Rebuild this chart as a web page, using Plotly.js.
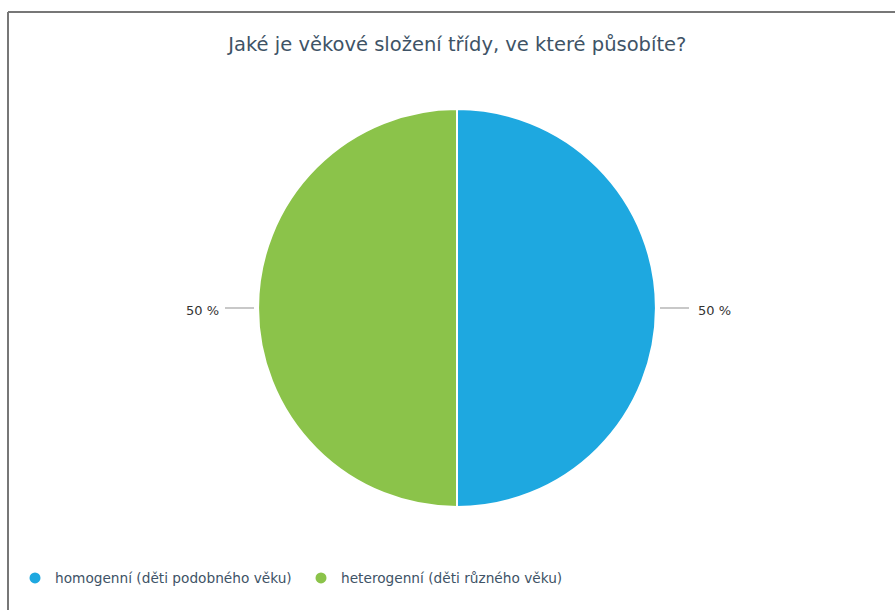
<!DOCTYPE html>
<html><head><meta charset="utf-8">
<script src="https://cdn.plot.ly/plotly-3.0.1.min.js"></script>
<style>html,body{margin:0;padding:0;background:#fff}</style>
</head><body><div id="chart" style="width:895px;height:610px"></div>
<script>
const categories = ["homogenní (děti podobného věku)", "heterogenní (děti různého věku)"];
const values = [50, 50];
const colors = ["#1ea8e0", "#8bc34a"];
const titleText = "Jaké je věkové složení třídy, ve které působíte?";

const W = 895, H = 610;
const cx = 457, cy = 308, R = 199;
const dom = {x: [(cx - R) / W, (cx + R) / W], y: [1 - (cy + R) / H, 1 - (cy - R) / H]};
const FONT = "DejaVu Sans, sans-serif";

const traces = [{
  type: "pie", labels: categories, values: values, sort: false, direction: "clockwise", rotation: 0,
  marker: {colors: colors, line: {color: "#ffffff", width: 2}},
  textinfo: "none", hoverinfo: "label+percent", showlegend: false, domain: dom
}];
categories.forEach((c, i) => traces.push({
  type: "scatter", mode: "markers", x: [null], y: [null], name: c,
  marker: {color: colors[i], size: 11, symbol: "circle"}, hoverinfo: "skip"
}));

const total = values.reduce((a, b) => a + b, 0);
const shapes = [
  {type: "line", xref: "paper", yref: "paper", x0: 8 / W, x1: 1, y0: 1 - 12 / H, y1: 1 - 12 / H, line: {color: "#777", width: 2}},
  {type: "line", xref: "paper", yref: "paper", x0: 8 / W, x1: 8 / W, y0: 0, y1: 1 - 12 / H, line: {color: "#777", width: 2}}
];
const annotations = [];
let cum = 0;
values.forEach((v, i) => {
  const mid = (cum + v / 2) / total * 2 * Math.PI; cum += v;
  const dx = Math.sin(mid), dy = -Math.cos(mid);
  const p = r => [(cx + dx * r) / W, 1 - (cy + dy * r) / H];
  const a = p(R + 4), b = p(R + 33), t = p(R + 40);
  shapes.push({type: "line", xref: "paper", yref: "paper", x0: a[0], y0: a[1], x1: b[0], y1: b[1], line: {color: "#c8c8c8", width: 2}});
  annotations.push({xref: "paper", yref: "paper", x: t[0], y: t[1] - 2 / H, showarrow: false,
    xanchor: dx >= 0 ? "left" : "right", yanchor: "middle", xshift: dx >= 0 ? 0 : 3,
    text: Math.round(v / total * 100) + " %", font: {family: FONT, size: 13, color: "#333"}});
});

const layout = {
  width: W, height: H, margin: {l: 0, r: 0, t: 0, b: 0},
  paper_bgcolor: "#fff", plot_bgcolor: "#fff",
  title: {text: titleText, x: 0.511, xanchor: "center", y: 1 - 44 / H, yanchor: "middle",
    font: {family: FONT, size: 19.5, color: "#3e5366"}},
  xaxis: {visible: false}, yaxis: {visible: false},
  showlegend: true,
  legend: {orientation: "h", x: 15 / W, xanchor: "left", y: 1 - 578 / H, yanchor: "middle",
    entrywidth: 241, entrywidthmode: "pixels",
    font: {family: FONT, size: 13.7, color: "#3e5366"}, itemclick: false},
  shapes: shapes, annotations: annotations
};
Plotly.newPlot("chart", traces, layout, {displayModeBar: false, staticPlot: true});
</script></body></html>
